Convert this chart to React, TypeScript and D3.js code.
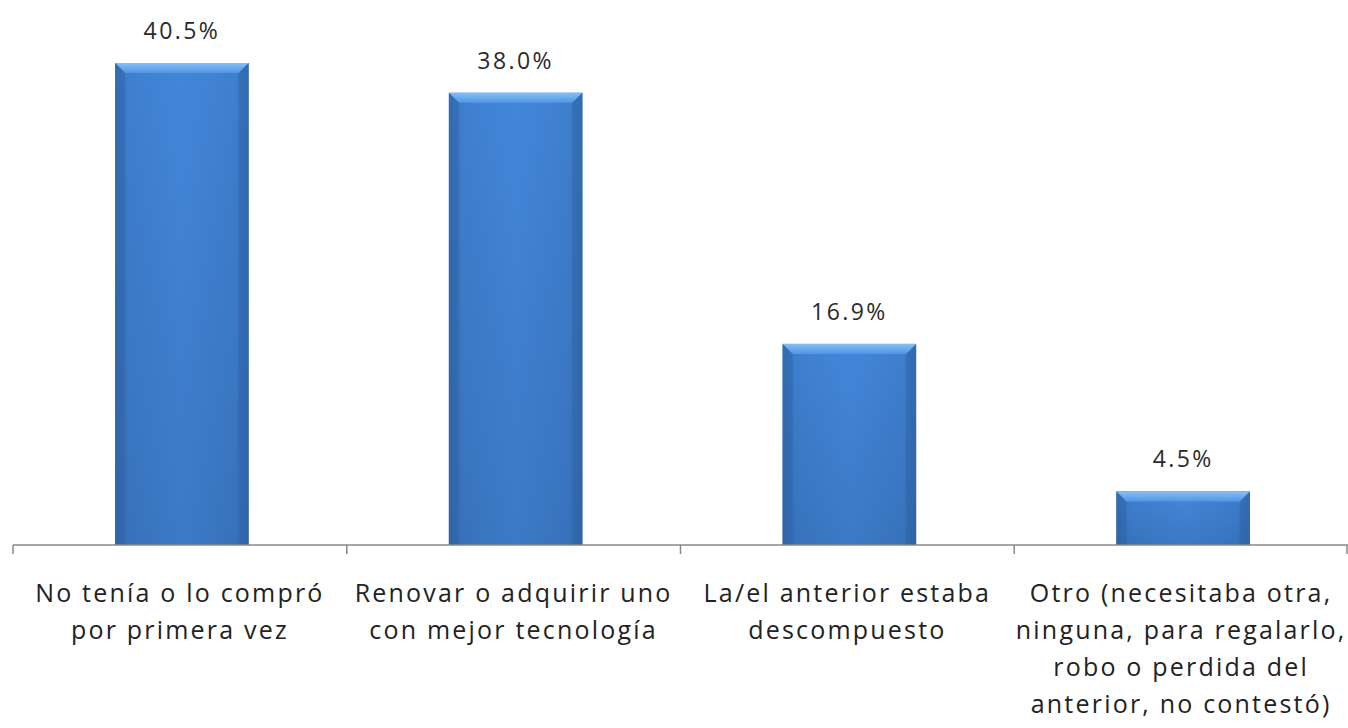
import React, { useEffect, useRef } from 'react';
import * as d3 from 'd3';

const categories = [
  ['No tenía o lo compró', 'por primera vez'],
  ['Renovar o adquirir uno', 'con mejor tecnología'],
  ['La/el anterior estaba', 'descompuesto'],
  ['Otro (necesitaba otra,', 'ninguna, para regalarlo,', 'robo o perdida del', 'anterior, no contestó)'],
];
const values = [40.5, 38.0, 16.9, 4.5];
const valueLabels = ['40.5%', '38.0%', '16.9%', '4.5%'];

const W = 1348;
const H = 728;
const FONT = '"Open Sans", Lato, sans-serif';

export default function App() {
  const ref = useRef<SVGSVGElement>(null);

  useEffect(() => {
    const svg = d3.select(ref.current);
    svg.selectAll('*').remove();

    const left = 13, right = 1348, base = 545;

    const x = d3.scaleBand<number>()
      .domain(values.map((_, i) => i))
      .range([left, right])
      .paddingInner(0.6)
      .paddingOuter(0.3);
    const xOuter = d3.scaleBand<number>()
      .domain(values.map((_, i) => i))
      .range([left, right]);
    const y = d3.scaleLinear().domain([0, 45]).range([base, base - 45 * 11.9]);

    const defs = svg.append('defs');
    const side = defs.append('linearGradient').attr('id', 'side').attr('x1', 0).attr('x2', 1).attr('y1', 0).attr('y2', 0);
    side.append('stop').attr('offset', '0').attr('stop-color', '#2c5f9e');
    side.append('stop').attr('offset', '0.1').attr('stop-color', '#3b78c6');
    side.append('stop').attr('offset', '0.5').attr('stop-color', '#4284d6');
    side.append('stop').attr('offset', '0.9').attr('stop-color', '#3b78c6');
    side.append('stop').attr('offset', '1').attr('stop-color', '#2c5f9e');
    const vert = defs.append('linearGradient').attr('id', 'vert').attr('x1', 0).attr('x2', 0).attr('y1', 0).attr('y2', 1);
    vert.append('stop').attr('offset', '0').attr('stop-color', '#448ade');
    vert.append('stop').attr('offset', '1').attr('stop-color', '#3468ad');
    const top = defs.append('linearGradient').attr('id', 'top').attr('x1', 0).attr('x2', 0).attr('y1', 0).attr('y2', 1);
    top.append('stop').attr('offset', '0').attr('stop-color', '#85bff7');
    top.append('stop').attr('offset', '1').attr('stop-color', '#5096e4');

    const bw = x.bandwidth();
    const bev = 10;
    const g = svg.append('g');
    values.forEach((v, i) => {
      const x0 = x(i)! + 2;
      const y0 = y(v);
      const bar = g.append('g');
      bar.append('rect').attr('x', x0).attr('y', y0).attr('width', bw).attr('height', base - y0).attr('fill', 'url(#vert)');
      bar.append('rect').attr('x', x0).attr('y', y0).attr('width', bw).attr('height', base - y0).attr('fill', 'url(#side)').attr('opacity', 0.6);
      bar.append('path')
        .attr('d', `M${x0},${y0}L${x0 + bw},${y0}L${x0 + bw - bev},${y0 + bev}L${x0 + bev},${y0 + bev}Z`)
        .attr('fill', 'url(#top)');
      bar.append('path')
        .attr('d', `M${x0},${y0}L${x0 + bev},${y0 + bev}L${x0 + bev},${base}L${x0},${base}Z`)
        .attr('fill', '#2f65a8').attr('opacity', 0.5);
      bar.append('path')
        .attr('d', `M${x0 + bw},${y0}L${x0 + bw - bev},${y0 + bev}L${x0 + bw - bev},${base}L${x0 + bw},${base}Z`)
        .attr('fill', '#2f65a8').attr('opacity', 0.5);

      svg.append('text')
        .attr('x', x0 + bw / 2)
        .attr('y', y0 - 24)
        .attr('text-anchor', 'middle')
        .attr('font-family', FONT)
        .attr('font-size', 23)
        .attr('letter-spacing', 2.4)
        .attr('fill', '#2a2a2a')
        .text(valueLabels[i]);
    });

    svg.append('line').attr('x1', left).attr('x2', right).attr('y1', base).attr('y2', base)
      .attr('stroke', '#888').attr('stroke-width', 1.5);
    const ticks = values.map((_, i) => xOuter(i)!).concat([right - 1]);
    ticks.forEach((t) => {
      svg.append('line').attr('x1', t).attr('x2', t).attr('y1', base).attr('y2', base + 9)
        .attr('stroke', '#888').attr('stroke-width', 1.5);
    });

    categories.forEach((lines, i) => {
      const cx = xOuter(i)! + xOuter.bandwidth() / 2;
      const t = svg.append('text')
        .attr('text-anchor', 'middle')
        .attr('font-family', FONT)
        .attr('font-size', 25)
        .attr('letter-spacing', 2.2)
        .attr('fill', '#222');
      lines.forEach((l, j) => {
        t.append('tspan').attr('x', cx).attr('y', 602 + j * 37).text(l);
      });
    });
  }, []);

  return (
    <svg ref={ref} width={W} height={H} style={{ position: 'absolute', left: 0, top: 0, background: '#fff' }} />
  );
}
